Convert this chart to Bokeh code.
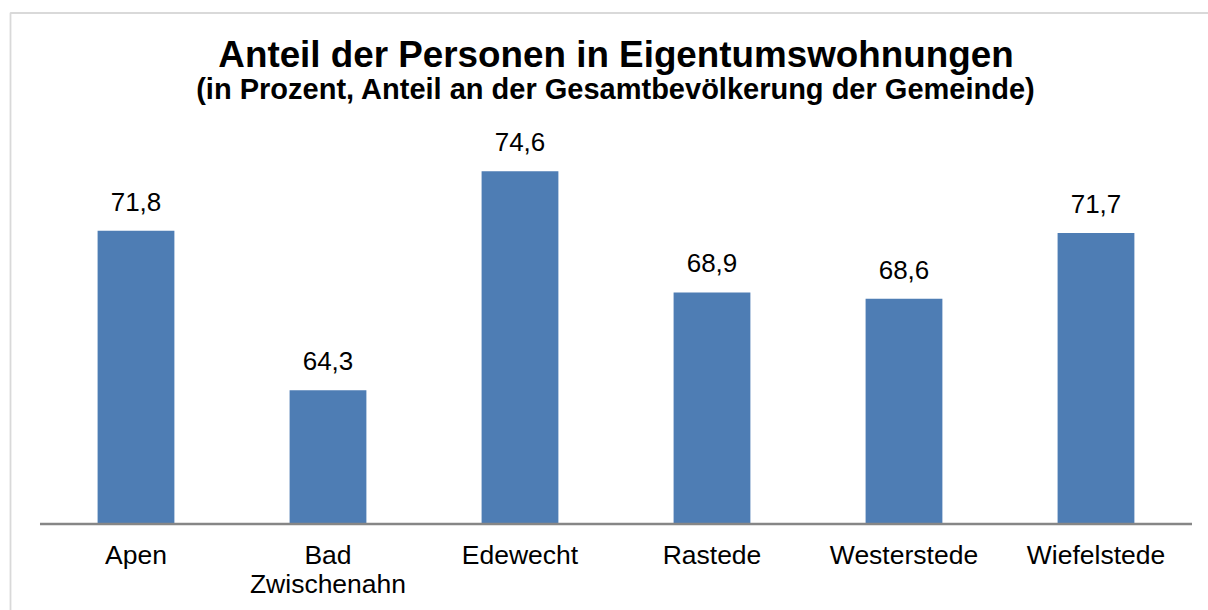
from bokeh.plotting import figure
from bokeh.models import ColumnDataSource, Range1d, Label, BoxAnnotation
from bokeh.core.properties import value
from bokeh.embed import file_html
from bokeh.resources import INLINE

# ---- data ----
categories = ["Apen", "Bad Zwischenahn", "Edewecht", "Rastede", "Westerstede", "Wiefelstede"]
shares = [71.8, 64.3, 74.6, 68.9, 68.6, 71.7]
axis_min = 58
title_text = "Anteil der Personen in Eigentumswohnungen"
subtitle_text = "(in Prozent, Anteil an der Gesamtbevölkerung der Gemeinde)"

FONT = "Liberation Sans"
BAR_COLOR = "#4E7DB4"
GRAY = "#868686"
W, H = 1208, 610

n = len(categories)
idx = list(range(n))
labels = [f"{v:.1f}".replace(".", ",") for v in shares]
cat_labels = [c.replace(" ", "\n") for c in categories]
src = ColumnDataSource(dict(x=idx, val=shares, lab=labels, cat=cat_labels))

p = figure(
    width=W, height=H,
    x_range=Range1d(-0.7057, 5.586),
    y_range=Range1d(53.93, 82.64),
    output_backend="svg", toolbar_location=None,
    x_axis_location=None, y_axis_location=None,
    min_border=0,
)
p.outline_line_color = None
p.xgrid.visible = False
p.ygrid.visible = False
p.background_fill_color = "white"
p.border_fill_color = "white"

# bars
p.vbar(x="x", top="val", bottom=axis_min, width=0.4, source=src,
       fill_color=BAR_COLOR, line_color=None)

# category axis line
p.segment(x0=[-0.5], x1=[n - 0.5], y0=[axis_min], y1=[axis_min],
          line_color=GRAY, line_width=2.5)

# value labels
p.text(x="x", y="val", text="lab", source=src, y_offset=-29,
       text_align="center", text_baseline="alphabetic",
       text_font=value(FONT), text_font_size="26px", text_color="black")

# category labels
p.text(x="x", y=axis_min, text="cat", source=src, y_offset=16,
       text_align="center", text_baseline="top",
       text_line_height=0.97,
       text_font=value(FONT), text_font_size="26.5px", text_color="black")

# titles
p.add_layout(Label(x=(n - 1) / 2, y=H - 53.7, x_units="data", y_units="screen",
                   text=title_text, text_align="center", text_baseline="alphabetic",
                   text_font=FONT, text_font_size="36.8px", text_font_style="bold",
                   text_color="black"))
p.add_layout(Label(x=(n - 1) / 2, y=H - 88.0, x_units="data", y_units="screen",
                   text=subtitle_text, text_align="center", text_baseline="alphabetic",
                   text_font=FONT, text_font_size="29px", text_font_style="bold",
                   text_color="black"))

# chart border (left and top edges visible)
p.add_layout(BoxAnnotation(left=10, right=W + 50, top=H - 12.5, bottom=-50,
                           left_units="screen", right_units="screen",
                           top_units="screen", bottom_units="screen",
                           fill_alpha=0, line_color="#808080", line_width=1.8))

open("out.html", "w").write(file_html(p, INLINE))
